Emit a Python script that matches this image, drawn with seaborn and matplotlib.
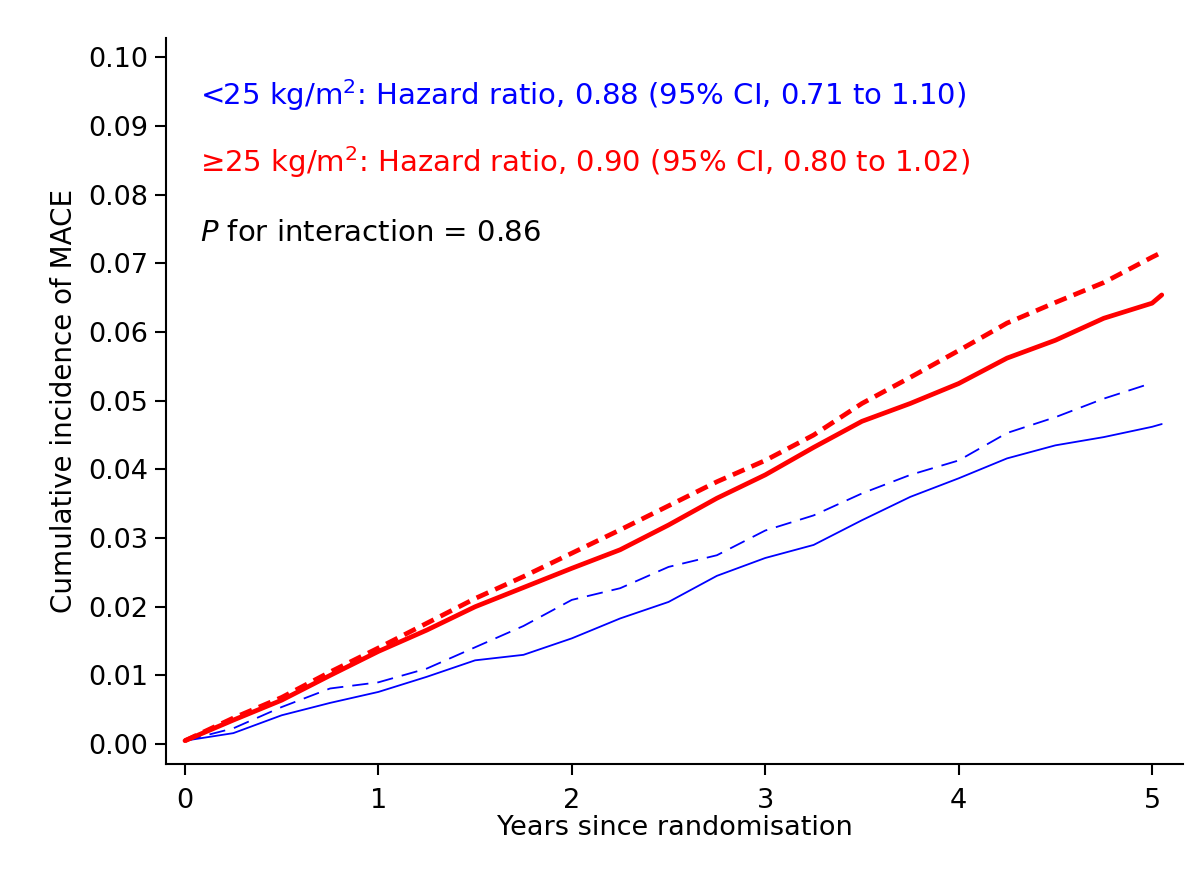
import matplotlib
matplotlib.use("Agg")
import matplotlib.pyplot as plt
import seaborn as sns
import pandas as pd

# ---- data ----
years = [0.0, 0.25, 0.5, 0.75, 1.0, 1.25, 1.5, 1.75, 2.0, 2.25, 2.5, 2.75,
         3.0, 3.25, 3.5, 3.75, 4.0, 4.25, 4.5, 4.75, 5.0, 5.05]
red_solid = [0.0005, 0.0035, 0.0064, 0.0100, 0.0135, 0.0166, 0.0200, 0.0228,
             0.0256, 0.0283, 0.0319, 0.0358, 0.0392, 0.0432, 0.0470, 0.0496,
             0.0525, 0.0562, 0.0588, 0.0620, 0.0642, 0.0654]
red_dashed = [0.0005, 0.0038, 0.0068, 0.0105, 0.0140, 0.0176, 0.0212, 0.0244,
              0.0278, 0.0312, 0.0347, 0.0382, 0.0413, 0.0450, 0.0496, 0.0534,
              0.0573, 0.0613, 0.0643, 0.0672, 0.0709, 0.0716]
years_blue_dashed = [0.0, 0.25, 0.5, 0.75, 1.0, 1.25, 1.5, 1.75, 2.0, 2.25, 2.5,
                     2.75, 3.0, 3.25, 3.5, 3.75, 4.0, 4.25, 4.5, 4.75, 4.98]
blue_dashed = [0.0005, 0.0023, 0.0054, 0.0081, 0.0090, 0.0110, 0.0141, 0.0172,
               0.0210, 0.0227, 0.0258, 0.0275, 0.0311, 0.0333, 0.0365, 0.0392,
               0.0413, 0.0453, 0.0476, 0.0503, 0.0524]
blue_solid = [0.0005, 0.0016, 0.0042, 0.0060, 0.0076, 0.0098, 0.0122, 0.0130,
              0.0154, 0.0183, 0.0207, 0.0245, 0.0271, 0.0290, 0.0326, 0.0360,
              0.0387, 0.0416, 0.0435, 0.0447, 0.0462, 0.0466]

x_ticks = [0, 1, 2, 3, 4, 5]
x_ticklabels = ["0", "1", "2", "3", "4", "5"]
y_ticks = [0.00, 0.01, 0.02, 0.03, 0.04, 0.05, 0.06, 0.07, 0.08, 0.09, 0.10]
y_ticklabels = ["0.00", "0.01", "0.02", "0.03", "0.04", "0.05",
                "0.06", "0.07", "0.08", "0.09", "0.10"]

line1 = "<25 kg/m$^2$: Hazard ratio, 0.88 (95% CI, 0.71 to 1.10)"
line2 = "\u226525 kg/m$^2$: Hazard ratio, 0.90 (95% CI, 0.80 to 1.02)"
line3 = r"$\mathit{P}$ for interaction = 0.86"

# ---- style ----
sns.set_theme(style="ticks")
plt.rcParams["font.family"] = ["DejaVu Sans"]
plt.rcParams["mathtext.fontset"] = "dejavusans"

fig = plt.figure(figsize=(12.03, 8.77), dpi=100)
ax = fig.add_axes([0.138, 0.1288, 0.8454, 0.8278])

BLUE = "#0000FF"
RED = "#FF0000"

df_bs = pd.DataFrame({"t": years, "v": blue_solid})
df_bd = pd.DataFrame({"t": years_blue_dashed, "v": blue_dashed})
df_rs = pd.DataFrame({"t": years, "v": red_solid})
df_rd = pd.DataFrame({"t": years, "v": red_dashed})

sns.lineplot(data=df_bs, x="t", y="v", ax=ax, color=BLUE, linewidth=1.3,
             estimator=None, sort=False)
sns.lineplot(data=df_bd, x="t", y="v", ax=ax, color=BLUE, linewidth=1.3,
             estimator=None, sort=False)
sns.lineplot(data=df_rs, x="t", y="v", ax=ax, color=RED, linewidth=3.4,
             estimator=None, sort=False)
sns.lineplot(data=df_rd, x="t", y="v", ax=ax, color=RED, linewidth=3.4,
             estimator=None, sort=False)
lines = ax.get_lines()
lines[1].set_dashes((9.0, 5.0))
lines[3].set_dashes((2.7, 1.6))

ax.set_xlim(-0.098, 5.16)
ax.set_ylim(-0.0029, 0.1028)
ax.set_xticks(x_ticks)
ax.set_xticklabels(x_ticklabels)
ax.set_yticks(y_ticks)
ax.set_yticklabels(y_ticklabels)

for s in ["top", "right"]:
    ax.spines[s].set_visible(False)
for s in ["left", "bottom"]:
    ax.spines[s].set_linewidth(1.5)
    ax.spines[s].set_color("black")

ax.tick_params(axis="both", direction="out", length=8, width=1.5,
               colors="black", labelsize=19.5)
ax.tick_params(axis="y", pad=5)
ax.tick_params(axis="x", pad=9)

ax.set_xlabel("Years since randomisation", fontsize=19.5, labelpad=1,
              color="black")
ax.set_ylabel("Cumulative incidence of MACE", fontsize=20, labelpad=7,
              color="black")

ax.text(0.078, 0.0930, line1, color=BLUE, fontsize=21, va="baseline", ha="left")
ax.text(0.078, 0.0833, line2, color=RED, fontsize=21, va="baseline", ha="left")
ax.text(0.078, 0.0732, line3, color="black", fontsize=21, va="baseline", ha="left")

fig.savefig("out.png", dpi=100, facecolor="white")
